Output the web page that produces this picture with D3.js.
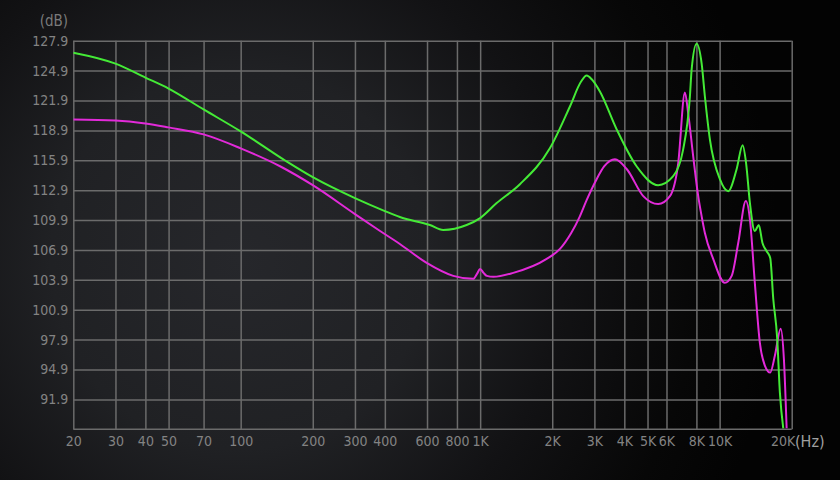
<!DOCTYPE html>
<html>
<head>
<meta charset="utf-8">
<script src="https://cdn.jsdelivr.net/npm/d3@7"></script>
<style>
  html, body { margin: 0; padding: 0; background: #111; }
  svg { display: block; }
</style>
</head>
<body>
<svg id="chart"></svg>
<script>
// frequency response, two channels
var xTicks = [20, 30, 40, 50, 70, 100, 200, 300, 400, 600, 800, 1000, 2000, 3000, 4000, 5000, 6000, 8000, 10000, 20000];
var xTickLabels = ["20", "30", "40", "50", "70", "100", "200", "300", "400", "600", "800", "1K", "2K", "3K", "4K", "5K", "6K", "8K", "10K", "20K"];
var yTicks = [91.9, 94.9, 97.9, 100.9, 103.9, 106.9, 109.9, 112.9, 115.9, 118.9, 121.9, 124.9, 127.9];

var greenFreq = [20, 30, 40, 50, 70, 100, 155, 200, 300, 400, 462, 617, 701, 878, 1000, 1172, 1466, 1955, 2371, 2640, 2784, 2930, 3163, 3716, 4500, 5542, 6400, 7045, 7515, 7640, 8013, 8414, 8680, 9107, 10027, 10860, 11775, 12475, 12900, 13385, 14028, 14570, 15100, 15700, 16270, 16750, 17400, 17850, 18440];
var greenDb = [126.7, 125.6, 124.2, 123.1, 121.0, 118.8, 115.8, 114.2, 112.1, 110.8, 110.2, 109.4, 108.9, 109.4, 110.1, 111.6, 113.5, 117.1, 121.3, 123.8, 124.4, 124.0, 122.8, 119.0, 115.3, 113.4, 114.3, 117.0, 122.3, 125.0, 127.6, 125.6, 122.3, 118.0, 114.0, 112.8, 115.0, 117.4, 115.6, 111.6, 108.8, 109.4, 107.6, 106.8, 106.1, 102.0, 98.0, 92.6, 89.0];

var magentaFreq = [20, 30, 40, 50, 70, 100, 146, 200, 300, 382, 462, 598, 772, 936, 970, 1000, 1033, 1066, 1136, 1375, 1895, 2154, 2400, 2600, 2784, 3050, 3300, 3654, 4100, 4800, 5542, 6200, 6716, 7163, 7392, 7757, 8140, 8410, 8680, 9400, 10520, 11230, 11960, 12870, 13380, 14030, 14720, 15450, 16270, 17020, 17990, 18560, 19050];
var magentaDb = [120.0, 119.9, 119.6, 119.2, 118.5, 117.1, 115.3, 113.4, 110.5, 108.8, 107.5, 105.6, 104.3, 104.0, 104.5, 105.0, 104.6, 104.3, 104.2, 104.6, 106.0, 107.0, 108.6, 110.2, 111.9, 113.9, 115.3, 116.0, 115.0, 112.3, 111.5, 112.3, 115.6, 122.7, 120.6, 116.3, 112.3, 110.3, 108.6, 106.0, 103.6, 104.3, 107.6, 111.8, 110.0, 103.6, 97.6, 95.3, 94.6, 96.3, 99.0, 95.9, 89.0];

var W = 840, H = 480;
var margin = {top: 40.7, right: 48.3, bottom: 50.7, left: 73.3},
	width = W - margin.left - margin.right,
	height = H - margin.top - margin.bottom;

var svg = d3.select("#chart")
	.attr("width", W)
	.attr("height", H);

// background glow, dark towards the right
var defs = svg.append("defs");
var grad = defs.append("radialGradient")
	.attr("id", "bg")
	.attr("gradientUnits", "userSpaceOnUse")
	.attr("cx", 240).attr("cy", 260).attr("r", 540);
grad.append("stop").attr("offset", "0%").attr("stop-color", "#26272b");
grad.append("stop").attr("offset", "35%").attr("stop-color", "#202124");
grad.append("stop").attr("offset", "60%").attr("stop-color", "#121214");
grad.append("stop").attr("offset", "85%").attr("stop-color", "#070707");
grad.append("stop").attr("offset", "100%").attr("stop-color", "#030303");

svg.append("rect")
	.attr("width", W).attr("height", H)
	.attr("fill", "url(#bg)");

defs.append("clipPath").attr("id", "clip")
	.append("rect")
	.attr("width", width).attr("height", height);

var g = svg.append("g")
	.attr("transform", "translate(" + margin.left + "," + margin.top + ")");

var x = d3.scaleLog()
	.domain([20, 20000])
	.range([0, width]);

var y = d3.scaleLinear()
	.domain([88.9, 127.9])
	.range([height, 0]);

var gridColor = "#6b6b6b";
var labelFont = "'DejaVu Sans Condensed', 'Liberation Sans Narrow', sans-serif";

// horizontal grid + y labels
var yAxis = d3.axisLeft(y)
	.tickValues(yTicks)
	.tickSize(-width)
	.tickPadding(5)
	.tickFormat(d3.format(".1f"));

var gy = g.append("g").call(yAxis);
gy.select(".domain").remove();
gy.selectAll("line").attr("stroke", gridColor).attr("stroke-width", 1.5);
gy.selectAll("text")
	.attr("fill", "#838383")
	.style("font-family", labelFont)
	.style("font-size", "14px");

// vertical grid + x labels
var xAxis = d3.axisBottom(x)
	.tickValues(xTicks)
	.tickSize(-height)
	.tickPadding(7)
	.tickFormat(function(d, i) {
		return xTickLabels[i];
	});

var gx = g.append("g")
	.attr("transform", "translate(0," + height + ")")
	.call(xAxis);
gx.select(".domain").remove();
gx.selectAll("line").attr("stroke", gridColor).attr("stroke-width", 1.5);
gx.selectAll("text")
	.attr("fill", "#838383")
	.style("font-family", labelFont)
	.style("font-size", "14px");
// 20K sits left of its line
gx.selectAll(".tick").filter(function(d) { return d === 20000; })
	.select("text")
	.attr("text-anchor", "end")
	.attr("x", 3);

g.append("line")
	.attr("x1", 0).attr("x2", width)
	.attr("y1", height).attr("y2", height)
	.attr("stroke", gridColor).attr("stroke-width", 1.5);

// units
svg.append("text")
	.attr("x", 68).attr("y", 26)
	.attr("text-anchor", "end")
	.attr("fill", "#7a7a7a")
	.style("font-family", labelFont)
	.style("font-size", "15px")
	.text("(dB)");

svg.append("text")
	.attr("x", 795).attr("y", 447)
	.attr("fill", "#a0a0a0")
	.style("font-family", labelFont)
	.style("font-size", "16px")
	.text("(Hz)");

// curves
var line = d3.line()
	.x(function(d) { return x(d[0]); })
	.y(function(d) { return y(d[1]); })
	.curve(d3.curveMonotoneX);

var series = [
	{name: "left", color: "#e22ad9", data: d3.zip(magentaFreq, magentaDb)},
	{name: "right", color: "#44ea36", data: d3.zip(greenFreq, greenDb)}
];

g.append("g")
	.attr("clip-path", "url(#clip)")
	.selectAll(".curve")
	.data(series)
	.enter().append("path")
	.attr("class", "curve")
	.attr("fill", "none")
	.attr("stroke", function(d) { return d.color; })
	.attr("stroke-width", 2)
	.attr("stroke-linejoin", "round")
	.attr("d", function(d) { return line(d.data); });
</script>
</body>
</html>
